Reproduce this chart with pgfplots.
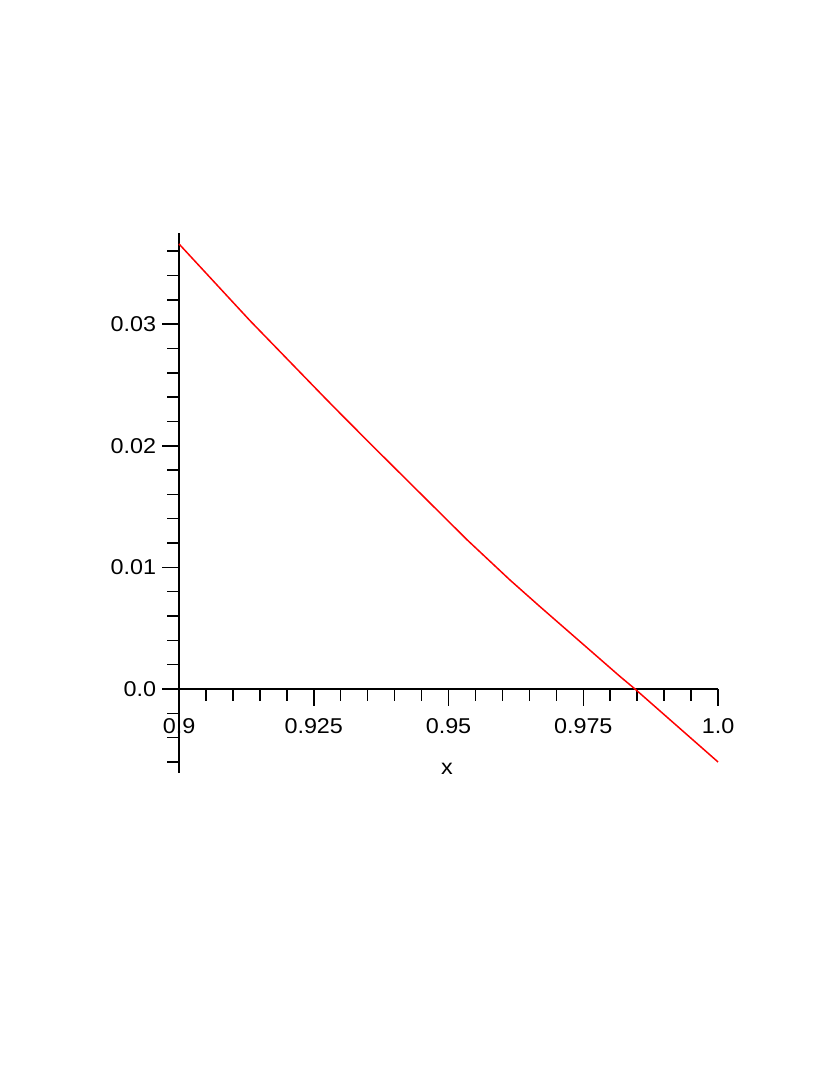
\documentclass[border=0pt]{standalone}
\usepackage{fontspec}
\setmainfont{Liberation Sans}[FakeStretch=1.09]
\usepackage{pgfplots}
\pgfplotsset{compat=1.18}
\begin{document}
\begin{tikzpicture}
\useasboundingbox (-131.99pt,-222.68pt) rectangle (480.02pt,569.97pt);
\begin{axis}[
  at={(0pt,0pt)}, anchor=south west,
  scale only axis,
  width=397.43pt, height=398.17pt,
  xmin=0.9, xmax=1.0,
  ymin=-0.006908, ymax=0.0375,
  axis x line*=middle,
  axis y line*=left,
  hide obscured x ticks=false,
  hide obscured y ticks=false,
  scaled y ticks=false,
  scaled x ticks=false,
  axis line style={-, line width=1.1pt, black},
  every tick/.style={black, line width=1.1pt},
  major tick length=12.3pt,
  minor tick length=8.6pt,
  tick align=outside,
  xtick={0.9,0.925,0.95,0.975,1.0},
  xticklabels={0.9,0.925,0.95,0.975,1.0},
  minor xtick={0.905,0.91,0.915,0.92,0.93,0.935,0.94,0.945,0.955,0.96,0.965,0.97,0.98,0.985,0.99,0.995},
  ytick={0,0.01,0.02,0.03},
  yticklabels={0.0,0.01,0.02,0.03},
  minor ytick={-0.006,-0.004,-0.002,0.002,0.004,0.006,0.008,0.012,0.014,0.016,0.018,0.022,0.024,0.026,0.028,0.032,0.034,0.036},
  every tick label/.append style={font=\fontsize{15.8pt}{18pt}\selectfont},
  xticklabel style={yshift=-6pt},
  yticklabel style={xshift=-1pt},
  xlabel={x},
  xlabel style={at={(axis description cs:0.497,0.0185)}, anchor=north, inner sep=0pt, font=\fontsize{15.8pt}{18pt}\selectfont},
  clip=false,
]
\addplot[red, line width=1.1pt] coordinates {
(0.9,0.03660)
(0.91317,0.03029)
(0.92709,0.02393)
(0.93080,0.02226)
(0.93729,0.01938)
(0.95349,0.01225)
(0.96141,0.00896)
(0.96698,0.00677)
(0.98182,0.00103)
(0.98460,0.0)
(1.0,-0.00600)
};
\end{axis}
\end{tikzpicture}
\end{document}
